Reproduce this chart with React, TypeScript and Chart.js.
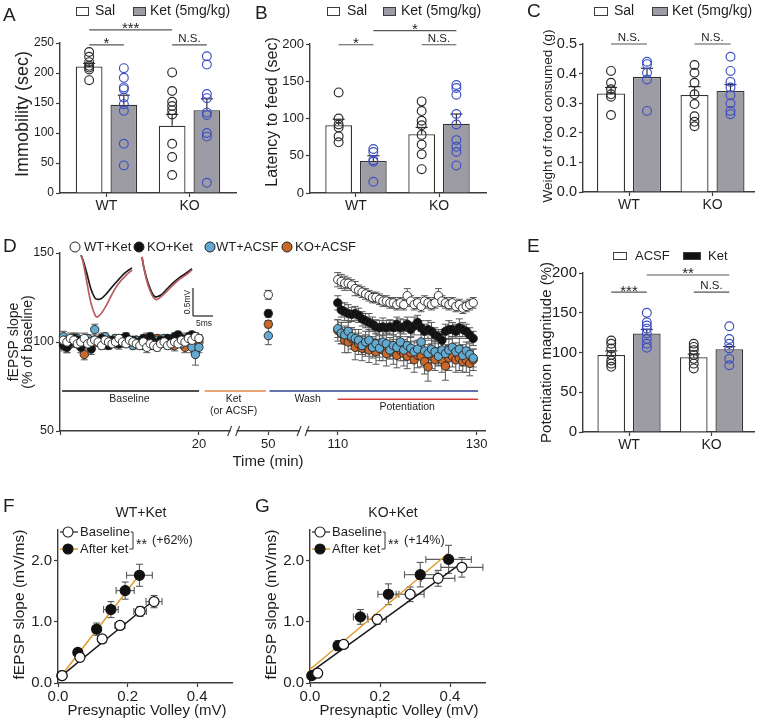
import React, { useEffect, useRef } from "react";
import { Chart, registerables } from "chart.js";
Chart.register(...registerables);

const W = 757;
const H = 721;
const FONT = "'Liberation Sans', Arial, Helvetica, sans-serif";
const TEXT = "#1e1e1e";
const AXIS = "#3c3c3c";
const ERR = "#2e2e2e";
const EB = "#5a5a5a";
const BAR_EDGE = "#333333";
const GRAY_BAR = "#9d9ca4";
const BLACK_DOT = "#2a2a2a";
const BLUE_DOT = "#3c4ec2";
const ORANGE = "#e39a2d";

// ---------------- Bar panels (A, B, C, E) ----------------
const GROUPS = ["WT", "KO"];

const A_TICKS = [0, 50, 100, 150, 200, 250];
const A_SAL_MEAN = [211, 112];
const A_SAL_SEM = [5, 19];
const A_SAL_PTS = [[235, 227, 218, 212, 209, 206, 188], [201, 170, 152, 145, 138, 131, 82, 60, 30]];
const A_KET_MEAN = [147, 138];
const A_KET_SEM = [16, 19];
const A_KET_PTS = [[208, 192, 176, 173, 159, 148, 137, 82, 46], [228, 214, 165, 158, 134, 130, 100, 94, 17]];

const B_TICKS = [0, 50, 100, 150, 200];
const B_SAL_MEAN = [91, 79];
const B_SAL_SEM = [8, 9];
const B_SAL_PTS = [[135, 100, 92, 88, 76, 68], [123, 110, 97, 91, 78, 65, 52, 32]];
const B_KET_MEAN = [43, 93];
const B_KET_SEM = [7, 13];
const B_KET_PTS = [[59, 55, 44, 42, 15], [145, 141, 132, 106, 92, 71, 62, 55, 37]];

const C_TICKS = [0, 0.1, 0.2, 0.3, 0.4, 0.5];
const C_SAL_MEAN = [0.333, 0.328];
const C_SAL_SEM = [0.02, 0.028];
const C_SAL_PTS = [[0.409, 0.369, 0.347, 0.33, 0.322, 0.26], [0.429, 0.403, 0.369, 0.33, 0.297, 0.256, 0.237, 0.222]];
const C_KET_MEAN = [0.389, 0.341];
const C_KET_SEM = [0.029, 0.022];
const C_KET_PTS = [[0.44, 0.432, 0.403, 0.38, 0.274], [0.457, 0.409, 0.372, 0.353, 0.327, 0.299, 0.274, 0.263]];

const E_TICKS = [0, 50, 100, 150, 200];
const E_ACSF_MEAN = [97, 94];
const E_ACSF_SEM = [5, 4];
const E_ACSF_PTS = [[115, 111, 105, 97, 90, 86, 82], [111, 107, 103, 97, 92, 86, 80]];
const E_KET_MEAN = [124, 104];
const E_KET_SEM = [5, 3.5];
const E_KET_PTS = [[150, 138, 134, 130, 124, 117, 111, 106], [133, 117, 111, 105, 92, 84]];

// ---------------- Panel D (time course) ----------------
const D_SERIES = ["WT+Ket", "KO+Ket", "WT+ACSF", "KO+ACSF"];
const D_FILL = ["#ffffff", "#111111", "#64a9cf", "#c8682c"];
const D_AXIS_T = [0, 20, 50, 110, 130]; // broken time axis knots (min)
const D_AXIS_U = [0, 20, 30, 40, 60]; // axis positions of those knots
const D_TICK_T = [0, 20, 50, 110, 130];
const D_TICK_LABELS = ["", "20", "50", "110", "130"];
const D_Y_TICKS = [50, 100, 150];
const D_BASE_T = Array.from({ length: 40 }, (_, i) => 0.5 * (i + 1));
const D_MID_T = 50;
const D_POT_T = Array.from({ length: 40 }, (_, i) => 110 + 0.5 * i);

const D_BASE = [
  [101, 100, 102, 101, 99, 100, 102, 99, 100, 101,
   100, 98, 101, 100, 99, 100, 102, 100, 99, 101,
   100, 99, 98, 100, 97, 99, 98, 97, 99, 100,
   98, 99, 100, 99, 101, 100, 102, 101, 103, 102],
  [98, 97, 100, 102, 101, 97, 99, 100, 96, 101,
   100, 102, 99, 98, 101, 100, 99, 102, 103, 100,
   101, 99, 100, 102, 101, 103, 100, 99, 101, 100,
   102, 101, 103, 104, 102, 101, 103, 104, 103, 102],
  [103, 101, 99, 100, 102, 101, 100, 102, 100, 107,
   100, 99, 103, 101, 100, 102, 99, 100, 101, 100,
   98, 101, 99, 100, 102, 98, 100, 101, 99, 102,
   100, 99, 101, 100, 99, 101, 100, 97, 93, 97],
  [99, 97, 100, 102, 99, 101, 93, 100, 98, 101,
   100, 102, 99, 101, 100, 99, 101, 100, 102, 100,
   99, 101, 100, 98, 101, 100, 99, 102, 100, 101,
   99, 100, 98, 101, 99, 97, 100, 101, 102, 100],
];
const D_BASE_SEM = [
  [2, 2, 3, 2, 2, 2, 3, 2, 2, 2, 2, 2, 2, 2, 2, 3, 2, 2, 2, 2, 2, 2, 2, 2, 3, 2, 2, 2, 2, 2, 2, 2, 2, 2, 2, 2, 2, 2, 2, 2],
  [3, 3, 2, 3, 2, 3, 2, 2, 3, 2, 2, 2, 3, 2, 2, 2, 3, 2, 2, 2, 2, 2, 3, 2, 2, 2, 2, 3, 2, 2, 2, 2, 2, 2, 3, 2, 2, 2, 2, 2],
  [3, 2, 2, 2, 3, 2, 2, 2, 2, 3, 2, 2, 2, 2, 3, 2, 2, 2, 2, 3, 2, 2, 2, 2, 3, 2, 2, 2, 2, 2, 2, 3, 2, 2, 2, 2, 2, 3, 6, 3],
  [3, 3, 2, 2, 2, 2, 3, 2, 2, 2, 2, 3, 2, 2, 2, 2, 2, 2, 3, 2, 2, 2, 2, 2, 2, 3, 2, 2, 2, 2, 2, 2, 3, 2, 2, 3, 2, 2, 2, 2],
];
const D_MID = [126.5, 116, 103.5, 110];
const D_MID_SEM = [2.5, 2, 5, 2];
const D_POT = [
  [135, 134, 133, 133, 132, 130, 129, 128, 127, 126,
   125, 125, 124, 123, 123, 122, 122, 121, 122, 121,
   126, 123, 121, 122, 120, 123, 122, 121, 122, 126,
   123, 122, 121, 122, 120, 121, 119, 120, 121, 122],
  [122, 118, 117, 116, 115.5, 116, 115, 113, 112, 111,
   110, 108.5, 108, 108.5, 108, 108.5, 108, 110, 108, 108.5,
   110, 107, 109, 111, 108, 106, 107, 106, 104, 103,
   101, 106, 107, 107, 106, 108, 107, 106, 104, 102],
  [107.5, 105, 104, 106, 103, 102, 101, 98, 100, 101,
   97, 99, 96.5, 100, 99, 95.5, 98, 97, 100, 95.5,
   98, 96.5, 94.5, 96, 100, 95, 93.5, 96, 94.5, 92,
   95.5, 93.5, 95.5, 97, 94.5, 96, 92.5, 95, 93, 91],
  [106.5, 105, 101, 100, 102, 97, 99, 96.5, 98, 95.5,
   97, 94.5, 96.5, 95.5, 93.5, 96.5, 94.5, 92.5, 95.5, 93.5,
   92, 94, 90, 92.5, 92, 89, 86, 92, 90, 93.5,
   90, 86.5, 91, 92, 90, 91, 89, 90, 88, 90],
];
const D_POT_SEM = [
  [4, 4, 4, 3, 3, 4, 3, 3, 3, 3, 3, 3, 3, 3, 3, 3, 3, 3, 3, 3, 4, 3, 3, 3, 3, 3, 3, 3, 3, 4, 3, 3, 3, 3, 3, 3, 3, 3, 3, 3],
  [4, 4, 5, 5, 4, 4, 4, 4, 4, 5, 4, 4, 4, 5, 4, 4, 4, 4, 5, 4, 4, 4, 5, 4, 4, 4, 5, 5, 4, 4, 5, 4, 5, 4, 4, 5, 4, 4, 4, 4],
  [5, 6, 5, 6, 5, 5, 6, 5, 6, 6, 5, 6, 5, 6, 6, 5, 6, 6, 5, 6, 5, 6, 6, 5, 6, 6, 5, 6, 6, 5, 6, 5, 6, 6, 5, 6, 6, 5, 6, 5],
  [6, 6, 7, 6, 6, 7, 6, 7, 6, 7, 6, 7, 7, 6, 7, 6, 7, 7, 6, 7, 7, 6, 7, 7, 6, 7, 8, 7, 6, 7, 7, 8, 7, 6, 7, 7, 6, 7, 7, 6],
];
const D_PHASE_LABELS = [["Baseline"], ["Ket", "(or ACSF)"], ["Wash"], ["Potentiation"]];
const D_PHASE_START = [0.3, 22.5, 51, 109.8];
const D_PHASE_END = [20.1, 49, 130.2, 130.2];
const D_PHASE_LABEL_T = [10, 35, 84, 120];
const D_PHASE_LEVEL = [72.5, 72.5, 72.5, 67.8];
const D_PHASE_COLOR = ["#141414", "#e0854a", "#33438f", "#d83a35"];
// inset fEPSP traces (ms, mV)
const INSET1_T = [0, 0.5, 1.5, 2.5, 3.5, 4, 5, 6.25, 7.75, 9.25, 11, 12.75];
const INSET1_PRE = [0, -0.09, -0.34, -0.61, -0.77, -0.79, -0.78, -0.7, -0.57, -0.45, -0.32, -0.23];
const INSET1_POST = [0, -0.12, -0.5, -0.86, -1.07, -1.11, -1.05, -0.91, -0.7, -0.52, -0.38, -0.27];
const INSET2_T = [0, 0.5, 1.5, 2.5, 3.25, 3.75, 4.75, 6, 7.5, 9.5, 11, 12.5];
const INSET2_PRE = [0, -0.2, -0.46, -0.64, -0.71, -0.71, -0.68, -0.59, -0.48, -0.36, -0.29, -0.21];
const INSET2_POST = [0, -0.21, -0.5, -0.68, -0.75, -0.76, -0.71, -0.63, -0.52, -0.39, -0.32, -0.23];

// ---------------- Panels F, G (input-output) ----------------
const IO_X_TICKS = [0, 0.2, 0.4];
const IO_Y_TICKS = [0, 1, 2];
const F_BASE_X = [0.012, 0.063, 0.127, 0.178, 0.236, 0.276];
const F_BASE_Y = [0.12, 0.42, 0.72, 0.94, 1.17, 1.33];
const F_BASE_XERR = [0.006, 0.008, 0.012, 0.014, 0.018, 0.023];
const F_BASE_YERR = [0.03, 0.04, 0.06, 0.06, 0.08, 0.1];
const F_KET_X = [0.011, 0.057, 0.111, 0.152, 0.193, 0.234];
const F_KET_Y = [0.12, 0.5, 0.88, 1.2, 1.51, 1.76];
const F_KET_XERR = [0.005, 0.008, 0.012, 0.021, 0.026, 0.037];
const F_KET_YERR = [0.03, 0.05, 0.1, 0.13, 0.14, 0.18];
const F_FIT_BASE_X = [0.011, 0.277];
const F_FIT_BASE_Y = [0.12, 1.36];
const F_FIT_KET_X = [0.011, 0.234];
const F_FIT_KET_Y = [0.13, 1.77];

const G_BASE_X = [0.022, 0.096, 0.192, 0.286, 0.366, 0.434];
const G_BASE_Y = [0.16, 0.63, 1.04, 1.45, 1.71, 1.89];
const G_BASE_XERR = [0.008, 0.012, 0.026, 0.04, 0.048, 0.06];
const G_BASE_YERR = [0.03, 0.06, 0.08, 0.12, 0.13, 0.16];
const G_KET_X = [0.005, 0.08, 0.144, 0.224, 0.315, 0.396];
const G_KET_Y = [0.12, 0.61, 1.08, 1.45, 1.77, 2.02];
const G_KET_XERR = [0.005, 0.012, 0.02, 0.03, 0.045, 0.065];
const G_KET_YERR = [0.03, 0.08, 0.12, 0.17, 0.2, 0.23];
const G_FIT_BASE_X = [0.0, 0.433];
const G_FIT_BASE_Y = [0.17, 1.96];
const G_FIT_KET_X = [0.0, 0.395];
const G_FIT_KET_Y = [0.22, 2.12];

// ---------------- helpers ----------------
const common: any = {
  responsive: false,
  maintainAspectRatio: false,
  animation: false,
  devicePixelRatio: 1,
  events: [],
  plugins: { legend: { display: false }, tooltip: { enabled: false }, title: { display: false } },
};

function pad(l: number, t: number, r: number, b: number, yw: number, xh: number) {
  return { left: l - yw, top: t, right: W - r, bottom: H - b - xh };
}

function linAxis(o: any) {
  const horizontal = !!o.horizontal;
  return {
    type: "linear",
    display: true,
    position: horizontal ? "bottom" : "left",
    min: o.min,
    max: o.max,
    bounds: "data",
    offset: false,
    afterBuildTicks: (sc: any) => {
      sc.ticks = o.ticks.map((v: number) => ({ value: v }));
    },
    afterFit: (sc: any) => {
      if (horizontal) sc.height = o.fit;
      else sc.width = o.fit;
    },
    ticks: {
      autoSkip: false,
      maxRotation: 0,
      minRotation: 0,
      padding: o.pad,
      color: TEXT,
      font: { family: FONT, size: o.size },
      callback: (v: number) => o.label(v),
    },
    grid: {
      display: true,
      drawOnChartArea: false,
      drawTicks: true,
      offset: false,
      tickLength: 4,
      tickWidth: 1.2,
      tickColor: AXIS,
      color: AXIS,
    },
    border: { display: true, color: AXIS, width: 1.4 },
  };
}

function text(ctx: any, s: string, x: number, y: number, size: number, align = "center", base = "middle", rot = 0, color = TEXT) {
  ctx.save();
  ctx.font = `${size}px ${FONT}`;
  ctx.fillStyle = color;
  ctx.textAlign = align;
  ctx.textBaseline = base;
  ctx.translate(x, y);
  if (rot) ctx.rotate(rot);
  ctx.fillText(s, 0, 0);
  ctx.restore();
}

function seg(ctx: any, x1: number, y1: number, x2: number, y2: number, color: string, w: number) {
  ctx.save();
  ctx.beginPath();
  ctx.moveTo(x1, y1);
  ctx.lineTo(x2, y2);
  ctx.strokeStyle = color;
  ctx.lineWidth = w;
  ctx.stroke();
  ctx.restore();
}

function ring(ctx: any, x: number, y: number, r: number, stroke: string, lw: number, fill?: string) {
  ctx.save();
  ctx.beginPath();
  ctx.arc(x, y, r, 0, Math.PI * 2);
  if (fill) {
    ctx.fillStyle = fill;
    ctx.fill();
  }
  ctx.strokeStyle = stroke;
  ctx.lineWidth = lw;
  ctx.stroke();
  ctx.restore();
}

function measure(ctx: any, s: string, size: number) {
  ctx.save();
  ctx.font = `${size}px ${FONT}`;
  const w = ctx.measureText(s).width;
  ctx.restore();
  return w;
}

// ---------------- bar panel builder ----------------
function barPanel(p: any) {
  const [l, t, r, b] = p.area;
  const extras = {
    id: "barExtras",
    afterDatasetsDraw(chart: any) {
      const ctx = chart.ctx;
      const ys = chart.scales.y;
      p.series.forEach((se: any, d: number) => {
        const meta = chart.getDatasetMeta(d);
        meta.data.forEach((el: any, i: number) => {
          const x = el.x;
          const y0 = ys.getPixelForValue(se.mean[i]);
          const y1 = ys.getPixelForValue(se.mean[i] + se.sem[i]);
          seg(ctx, x, y0, x, y1, ERR, 1.2);
          seg(ctx, x - 6, y1, x + 6, y1, ERR, 1.2);
          se.pts[i].forEach((v: number) => ring(ctx, x, ys.getPixelForValue(v), 4.4, se.dot, 1.15));
        });
      });
    },
    afterDraw(chart: any) {
      const ctx = chart.ctx;
      const ys = chart.scales.y;
      const ca = chart.chartArea;
      text(ctx, p.letter, p.letterXY[0], p.letterXY[1], 19, "left");
      text(ctx, p.yTitle, p.yTitleX, p.yTitleY ?? (ca.top + ca.bottom) / 2, p.yTitleSize, "center", "middle", -Math.PI / 2);
      p.legend.forEach((lg: any) => {
        ctx.save();
        ctx.fillStyle = lg.fill;
        ctx.fillRect(lg.x, lg.y, lg.w, lg.h);
        ctx.strokeStyle = AXIS;
        ctx.lineWidth = 1;
        ctx.strokeRect(lg.x + 0.5, lg.y + 0.5, lg.w, lg.h);
        ctx.restore();
        text(ctx, lg.label, lg.tx, lg.y + lg.h / 2 + 0.5, p.legendSize, "left");
      });
      p.brackets.forEach((bk: any) => {
        const xa = chart.getDatasetMeta(bk.a[0]).data[bk.a[1]].x;
        const xb = chart.getDatasetMeta(bk.b[0]).data[bk.b[1]].x;
        const yy = ys.getPixelForValue(bk.y);
        seg(ctx, xa, yy, xb, yy, "#555", 1.2);
        if (bk.text === "N.S.") text(ctx, bk.text, (xa + xb) / 2, yy - 3, 11.5, "center", "alphabetic");
        else text(ctx, bk.text, (xa + xb) / 2, yy + 3.5, 15, "center", "alphabetic");
      });
    },
  };
  return {
    type: "bar",
    data: {
      datasets: p.series.map((se: any) => ({
        label: se.label,
        data: se.mean.map((m: number, i: number) => ({ x: i, y: m })),
        backgroundColor: se.fill,
        borderColor: BAR_EDGE,
        borderWidth: 1.3,
        categoryPercentage: p.catPct,
        barPercentage: p.barPct,
      })),
    },
    options: {
      ...common,
      layout: { padding: pad(l, t, r, b, 45, 30) },
      scales: {
        x: linAxis({
          horizontal: true,
          min: p.xMin,
          max: p.xMax,
          ticks: GROUPS.map((_, i) => i),
          label: (v: number) => GROUPS[Math.round(v)] ?? "",
          size: 14,
          pad: 1,
          fit: 30,
        }),
        y: linAxis({
          min: 0,
          max: p.yTicks[p.yTicks.length - 1],
          ticks: p.yTicks,
          label: p.yLabel,
          size: p.tickSize,
          pad: 2,
          fit: 45,
        }),
      },
    },
    plugins: [extras],
  };
}

const salKet = (salMean: number[], salSem: number[], salPts: number[][], ketMean: number[], ketSem: number[], ketPts: number[][], l1 = "Sal", l2 = "Ket") => [
  { label: l1, fill: "#ffffff", mean: salMean, sem: salSem, pts: salPts, dot: BLACK_DOT },
  { label: l2, fill: GRAY_BAR, mean: ketMean, sem: ketSem, pts: ketPts, dot: BLUE_DOT },
];

function cfgA() {
  return barPanel({
    area: [60, 43, 236, 193],
    xMin: -0.56, xMax: 1.56, catPct: 0.836, barPct: 0.77,
    yTicks: A_TICKS, yLabel: (v: number) => String(v), tickSize: 12,
    series: salKet(A_SAL_MEAN, A_SAL_SEM, A_SAL_PTS, A_KET_MEAN, A_KET_SEM, A_KET_PTS),
    letter: "A", letterXY: [3, 16],
    yTitle: "Immobility (sec)", yTitleX: 23, yTitleY: 114, yTitleSize: 18,
    legendSize: 14,
    legend: [
      { x: 76, y: 7, w: 12, h: 8, fill: "#ffffff", label: "Sal", tx: 95 },
      { x: 133, y: 7, w: 12, h: 8, fill: GRAY_BAR, label: "Ket (5mg/kg)", tx: 150 },
    ],
    brackets: [
      { a: [0, 0], b: [1, 0], y: 247, text: "*" },
      { a: [0, 0], b: [0, 1], y: 272, text: "***" },
      { a: [0, 1], b: [1, 1], y: 247, text: "N.S." },
    ],
  });
}

function cfgB() {
  return barPanel({
    area: [310, 44, 486, 193],
    xMin: -0.554, xMax: 1.566, catPct: 0.836, barPct: 0.77,
    yTicks: B_TICKS, yLabel: (v: number) => String(v), tickSize: 13,
    series: salKet(B_SAL_MEAN, B_SAL_SEM, B_SAL_PTS, B_KET_MEAN, B_KET_SEM, B_KET_PTS),
    letter: "B", letterXY: [255, 14],
    yTitle: "Latency to feed (sec)", yTitleX: 273, yTitleY: 112, yTitleSize: 16,
    legendSize: 14,
    legend: [
      { x: 327, y: 7, w: 12, h: 8, fill: "#ffffff", label: "Sal", tx: 347 },
      { x: 383, y: 7, w: 12, h: 8, fill: GRAY_BAR, label: "Ket (5mg/kg)", tx: 401 },
    ],
    brackets: [
      { a: [0, 0], b: [1, 0], y: 199, text: "*" },
      { a: [0, 1], b: [1, 1], y: 199, text: "N.S." },
      { a: [1, 0], b: [1, 1], y: 218, text: "*" },
    ],
  });
}

function cfgC() {
  return barPanel({
    area: [583, 44, 754, 192],
    xMin: -0.551, xMax: 1.497, catPct: 0.862, barPct: 0.778,
    yTicks: C_TICKS, yLabel: (v: number) => v.toFixed(1), tickSize: 14.5,
    series: salKet(C_SAL_MEAN, C_SAL_SEM, C_SAL_PTS, C_KET_MEAN, C_KET_SEM, C_KET_PTS),
    letter: "C", letterXY: [527, 12],
    yTitle: "Weight of food consumed (g)", yTitleX: 548, yTitleY: 116, yTitleSize: 13.5,
    legendSize: 14,
    legend: [
      { x: 594, y: 7, w: 13, h: 8, fill: "#ffffff", label: "Sal", tx: 614 },
      { x: 652, y: 7, w: 15, h: 8, fill: GRAY_BAR, label: "Ket (5mg/kg)", tx: 672 },
    ],
    brackets: [
      { a: [0, 0], b: [1, 0], y: 0.5, text: "N.S." },
      { a: [0, 1], b: [1, 1], y: 0.5, text: "N.S." },
    ],
  });
}

function cfgE() {
  return barPanel({
    area: [583, 273, 754, 432],
    xMin: -0.558, xMax: 1.515, catPct: 0.862, barPct: 0.778,
    yTicks: E_TICKS, yLabel: (v: number) => String(v), tickSize: 15,
    series: salKet(E_ACSF_MEAN, E_ACSF_SEM, E_ACSF_PTS, E_KET_MEAN, E_KET_SEM, E_KET_PTS, "ACSF", "Ket"),
    letter: "E", letterXY: [527, 247],
    yTitle: "Potentiation magnitude (%)", yTitleX: 547, yTitleSize: 15,
    legendSize: 13,
    legend: [
      { x: 613, y: 252, w: 13, h: 7, fill: "#ffffff", label: "ACSF", tx: 635 },
      { x: 683, y: 252, w: 17, h: 7, fill: "#111111", label: "Ket", tx: 708 },
    ],
    brackets: [
      { a: [0, 0], b: [1, 0], y: 176, text: "***" },
      { a: [0, 1], b: [1, 1], y: 176, text: "N.S." },
      { a: [1, 0], b: [1, 1], y: 197.5, text: "**" },
    ],
  });
}

// ---------------- D ----------------
function toU(t: number) {
  for (let k = 1; k < D_AXIS_T.length; k++) {
    if (t <= D_AXIS_T[k]) {
      const t0 = D_AXIS_T[k - 1];
      const t1 = D_AXIS_T[k];
      return D_AXIS_U[k - 1] + ((t - t0) / (t1 - t0)) * (D_AXIS_U[k] - D_AXIS_U[k - 1]);
    }
  }
  return D_AXIS_U[D_AXIS_U.length - 1] + (t - D_AXIS_T[D_AXIS_T.length - 1]);
}

const INSET_X0 = [5.25, 20.5];
const INSET_Y0 = [-0.036, -0.071];
const SCALEBAR = [33.25, -1.125, 5, 0.5];

function cfgD() {
  const [l, t, r, b] = [60, 253, 485, 431];
  const series = D_SERIES.map((name, s) => {
    const data: any[] = [];
    const sem: number[] = [];
    D_BASE_T.forEach((tt, i) => { data.push({ x: toU(tt), y: D_BASE[s][i] }); sem.push(D_BASE_SEM[s][i]); });
    data.push({ x: toU(D_MID_T), y: D_MID[s] });
    sem.push(D_MID_SEM[s]);
    D_POT_T.forEach((tt, i) => { data.push({ x: toU(tt), y: D_POT[s][i] }); sem.push(D_POT_SEM[s][i]); });
    return {
      type: "scatter",
      label: name,
      data,
      sem,
      pointRadius: 4.2,
      pointBackgroundColor: D_FILL[s],
      pointBorderColor: "#222222",
      pointBorderWidth: 0.9,
      clip: false,
    };
  });
  const trace = (tArr: number[], vArr: number[], k: number, color: string) => ({
    type: "line",
    xAxisID: "xi",
    yAxisID: "yi",
    data: tArr.map((tt, i) => ({ x: INSET_X0[k] + tt, y: INSET_Y0[k] + vArr[i] })),
    borderColor: color,
    borderWidth: 1.7,
    pointRadius: 0,
    tension: 0.35,
    fill: false,
    clip: false,
  });
  const traces = [
    trace(INSET1_T, INSET1_POST, 0, "#b95d62"),
    trace(INSET1_T, INSET1_PRE, 0, "#1a1a1a"),
    trace(INSET2_T, INSET2_POST, 1, "#b95d62"),
    trace(INSET2_T, INSET2_PRE, 1, "#1a1a1a"),
  ];
  const extras = {
    id: "dExtras",
    beforeDatasetsDraw(chart: any) {
      const ctx = chart.ctx;
      const ys = chart.scales.y;
      chart.data.datasets.forEach((ds: any, d: number) => {
        if (!ds.sem) return;
        const meta = chart.getDatasetMeta(d);
        meta.data.forEach((el: any, i: number) => {
          const v = ds.data[i].y;
          const yt = ys.getPixelForValue(v + ds.sem[i]);
          const yb = ys.getPixelForValue(v - ds.sem[i]);
          seg(ctx, el.x, yt, el.x, yb, EB, 1);
          seg(ctx, el.x - 3.5, yt, el.x + 3.5, yt, EB, 1);
          seg(ctx, el.x - 3.5, yb, el.x + 3.5, yb, EB, 1);
        });
      });
    },
    afterDraw(chart: any) {
      const ctx = chart.ctx;
      const xs = chart.scales.x;
      const ys = chart.scales.y;
      const xi = chart.scales.xi;
      const yi = chart.scales.yi;
      const ca = chart.chartArea;
      text(ctx, "D", 3, 247, 19, "left");
      const mid = (ca.top + ca.bottom) / 2;
      text(ctx, "fEPSP slope", 14, mid, 14, "center", "middle", -Math.PI / 2);
      text(ctx, "(% of baseline)", 28.5, mid, 14, "center", "middle", -Math.PI / 2);
      text(ctx, "Time (min)", 268, 462, 15);
      // legend
      const lx = [75, 139, 210, 287];
      const tx = [84, 147, 216, 295];
      D_SERIES.forEach((name, s) => {
        ring(ctx, lx[s], 247, 5, "#222", 1, D_FILL[s]);
        text(ctx, name, tx[s], 247.5, 13, "left");
      });
      // phases
      D_PHASE_LABELS.forEach((lab, k) => {
        const yy = ys.getPixelForValue(D_PHASE_LEVEL[k]);
        seg(ctx, xs.getPixelForValue(toU(D_PHASE_START[k])), yy, xs.getPixelForValue(toU(D_PHASE_END[k])), yy, D_PHASE_COLOR[k], 1.5);
        const cx = xs.getPixelForValue(toU(D_PHASE_LABEL_T[k]));
        lab.forEach((line, j) => text(ctx, line, cx, yy + 8 + j * 12.5, 10.5));
      });
      // scale bar
      const sx = xi.getPixelForValue(SCALEBAR[0]);
      const sy = yi.getPixelForValue(SCALEBAR[1]);
      const sx2 = xi.getPixelForValue(SCALEBAR[0] + SCALEBAR[2]);
      const sy2 = yi.getPixelForValue(SCALEBAR[1] + SCALEBAR[3]);
      seg(ctx, sx, sy, sx, sy2, "#222", 1.2);
      seg(ctx, sx, sy, sx2, sy, "#222", 1.2);
      text(ctx, "0.5mV", sx - 5, (sy + sy2) / 2, 8.5, "center", "middle", -Math.PI / 2);
      text(ctx, "5ms", (sx + sx2) / 2 + 1, sy + 8, 8.5);
      // axis breaks
      [35, 80].forEach((tb) => {
        const bx = xs.getPixelForValue(toU(tb));
        const by = ca.bottom;
        ctx.save();
        ctx.fillStyle = "#ffffff";
        ctx.fillRect(bx - 3, by - 2, 6, 4);
        ctx.restore();
        seg(ctx, bx - 6, by + 5, bx - 2, by - 5, AXIS, 1.1);
        seg(ctx, bx + 2, by + 5, bx + 6, by - 5, AXIS, 1.1);
      });
    },
  };
  return {
    type: "scatter",
    data: { datasets: [...series, ...traces] },
    options: {
      ...common,
      layout: { padding: pad(l, t, r, b, 45, 30) },
      scales: {
        x: linAxis({
          horizontal: true,
          min: 0,
          max: toU(131.2),
          ticks: D_TICK_T.map(toU),
          label: (v: number) => {
            const k = D_TICK_T.map(toU).findIndex((u) => Math.abs(u - v) < 1e-6);
            return k >= 0 ? D_TICK_LABELS[k] : "";
          },
          size: 13,
          pad: 2,
          fit: 30,
        }),
        y: linAxis({ min: 50, max: 150, ticks: D_Y_TICKS, label: (v: number) => String(v), size: 12.5, pad: 2, fit: 45 }),
        xi: { type: "linear", display: false, position: "bottom", min: 0, max: (r - l) / 4 },
        yi: { type: "linear", display: false, position: "left", min: -(b - t) / 56, max: 0 },
      },
    },
    plugins: [extras],
  };
}

// ---------------- F, G ----------------
function ioPanel(p: any) {
  const [l, t, r, b] = p.area;
  const pts = (xs: number[], ys: number[]) => xs.map((x, i) => ({ x, y: ys[i] }));
  const extras = {
    id: "ioExtras",
    beforeDatasetsDraw(chart: any) {
      const ctx = chart.ctx;
      const xs = chart.scales.x;
      const ys = chart.scales.y;
      chart.data.datasets.forEach((ds: any) => {
        if (!ds.xerr) return;
        ds.data.forEach((pt: any, i: number) => {
          const cx = xs.getPixelForValue(pt.x);
          const cy = ys.getPixelForValue(pt.y);
          const xl = xs.getPixelForValue(pt.x - ds.xerr[i]);
          const xr = xs.getPixelForValue(pt.x + ds.xerr[i]);
          const yt = ys.getPixelForValue(pt.y + ds.yerr[i]);
          const yb = ys.getPixelForValue(pt.y - ds.yerr[i]);
          seg(ctx, xl, cy, xr, cy, EB, 1.1);
          seg(ctx, xl, cy - 3.5, xl, cy + 3.5, EB, 1.1);
          seg(ctx, xr, cy - 3.5, xr, cy + 3.5, EB, 1.1);
          seg(ctx, cx, yt, cx, yb, EB, 1.1);
          seg(ctx, cx - 3.5, yt, cx + 3.5, yt, EB, 1.1);
          seg(ctx, cx - 3.5, yb, cx + 3.5, yb, EB, 1.1);
        });
      });
    },
    afterDraw(chart: any) {
      const ctx = chart.ctx;
      const ca = chart.chartArea;
      text(ctx, p.letter, p.letterXY[0], p.letterXY[1], 19, "left");
      text(ctx, p.title, ca.left + 83, 513, 14);
      text(ctx, "fEPSP slope (mV/ms)", p.yTitleX, (ca.top + ca.bottom) / 2 - 2, 15.5, "center", "middle", -Math.PI / 2);
      text(ctx, "Presynaptic Volley (mV)", ca.left + 89, 711, 15);
      const lx = ca.left;
      const y1 = 532;
      const y2 = 549;
      seg(ctx, lx + 2, y1, lx + 20, y1, "#222", 1.2);
      ring(ctx, lx + 10, y1, 5, "#222", 1.1, "#ffffff");
      seg(ctx, lx + 2, y2, lx + 20, y2, ORANGE, 1.5);
      ring(ctx, lx + 10, y2, 5, "#111", 1.1, "#111111");
      text(ctx, "Baseline", lx + 22, y1 + 0.5, 13, "left");
      text(ctx, "After ket", lx + 22, y2 + 0.5, 13, "left");
      const w1 = measure(ctx, "Baseline", 13);
      const w2 = measure(ctx, "After ket", 13);
      const xb = lx + 75;
      seg(ctx, lx + 23 + w1, y1, xb, y1, "#333", 1);
      seg(ctx, xb, y1, xb, y2, "#333", 1);
      seg(ctx, lx + 23 + w2, y2, xb, y2, "#333", 1);
      text(ctx, "**", xb + 3, (y1 + y2) / 2 + 8, 14, "left", "alphabetic");
      text(ctx, p.pct, xb + 19, (y1 + y2) / 2, 12.5, "left");
    },
  };
  return {
    type: "scatter",
    data: {
      datasets: [
        {
          label: "Baseline",
          data: pts(p.bx, p.by),
          xerr: p.bxe,
          yerr: p.bye,
          pointRadius: 5,
          pointBackgroundColor: "#ffffff",
          pointBorderColor: "#111111",
          pointBorderWidth: 1.2,
          clip: false,
        },
        {
          label: "After ket",
          data: pts(p.kx, p.ky),
          xerr: p.kxe,
          yerr: p.kye,
          pointRadius: 5,
          pointBackgroundColor: "#111111",
          pointBorderColor: "#111111",
          pointBorderWidth: 1.2,
          clip: false,
        },
        { label: "fit ket", data: pts(p.fkx, p.fky), showLine: true, pointRadius: 0, borderColor: ORANGE, borderWidth: 1.5, clip: false },
        { label: "fit base", data: pts(p.fbx, p.fby), showLine: true, pointRadius: 0, borderColor: "#1a1a1a", borderWidth: 1.5, clip: false },
      ],
    },
    options: {
      ...common,
      layout: { padding: pad(l, t, r, b, 45, 32) },
      scales: {
        x: linAxis({ horizontal: true, min: 0, max: 0.5, ticks: IO_X_TICKS, label: (v: number) => v.toFixed(1), size: 15, pad: 1, fit: 32 }),
        y: linAxis({ min: 0, max: 2.5, ticks: IO_Y_TICKS, label: (v: number) => v.toFixed(1), size: 15, pad: 2, fit: 45 }),
      },
    },
    plugins: [extras],
  };
}

function cfgF() {
  return ioPanel({
    area: [58, 530, 232, 683],
    bx: F_BASE_X, by: F_BASE_Y, bxe: F_BASE_XERR, bye: F_BASE_YERR,
    kx: F_KET_X, ky: F_KET_Y, kxe: F_KET_XERR, kye: F_KET_YERR,
    fbx: F_FIT_BASE_X, fby: F_FIT_BASE_Y, fkx: F_FIT_KET_X, fky: F_FIT_KET_Y,
    letter: "F", letterXY: [3, 507], title: "WT+Ket", pct: "(+62%)", yTitleX: 20,
  });
}

function cfgG() {
  return ioPanel({
    area: [310, 530, 485, 683],
    bx: G_BASE_X, by: G_BASE_Y, bxe: G_BASE_XERR, bye: G_BASE_YERR,
    kx: G_KET_X, ky: G_KET_Y, kxe: G_KET_XERR, kye: G_KET_YERR,
    fbx: G_FIT_BASE_X, fby: G_FIT_BASE_Y, fkx: G_FIT_KET_X, fky: G_FIT_KET_Y,
    letter: "G", letterXY: [255, 507], title: "KO+Ket", pct: "(+14%)", yTitleX: 272,
  });
}

export default function App() {
  const refs = useRef<(HTMLCanvasElement | null)[]>([]);
  useEffect(() => {
    const cfgs = [cfgA(), cfgB(), cfgC(), cfgD(), cfgE(), cfgF(), cfgG()];
    const charts = cfgs.map((c, i) => new Chart(refs.current[i] as HTMLCanvasElement, c as any));
    return () => charts.forEach((c) => c.destroy());
  }, []);
  return (
    <div style={{ position: "absolute", left: 0, top: 0, width: W, height: H, background: "#ffffff", overflow: "hidden" }}>
      <style>{"body{margin:0;background:#fff}"}</style>
      {Array.from({ length: 7 }).map((_, i) => (
        <canvas
          key={i}
          ref={(el) => {
            refs.current[i] = el;
          }}
          width={W}
          height={H}
          style={{ position: "absolute", left: 0, top: 0, width: W, height: H }}
        />
      ))}
    </div>
  );
}
